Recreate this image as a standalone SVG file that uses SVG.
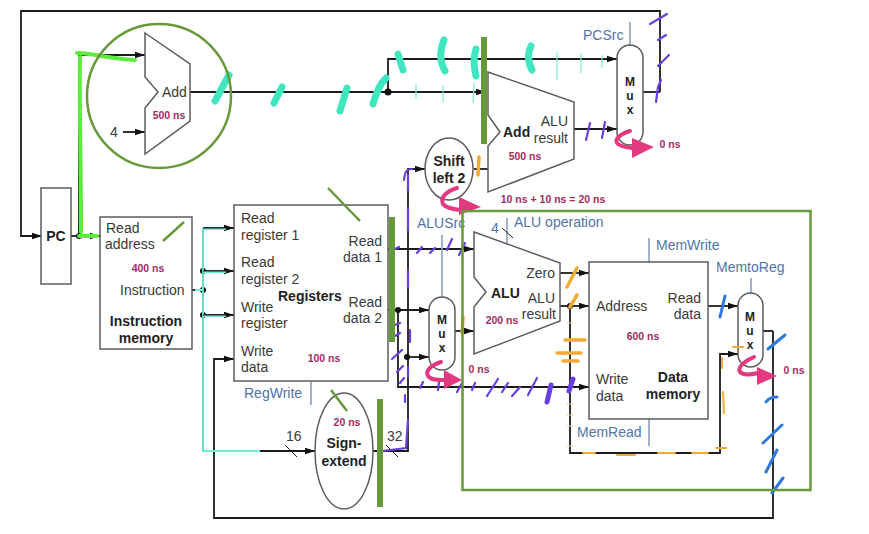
<svg xmlns="http://www.w3.org/2000/svg" width="869" height="534" viewBox="0 0 869 534">
<style>
text{font-family:"Liberation Sans",Arial,sans-serif;font-size:14px;fill:#3a3a3a}
.b{font-weight:bold;fill:#222}
.m{text-anchor:middle}
.e{text-anchor:end}
.t{font-size:10.5px;font-weight:bold;fill:#a32c62;text-anchor:middle}
.c{fill:#4f74a8}
.x{font-size:12px;font-weight:bold;fill:#222;text-anchor:middle}
.n{fill:#fff;stroke:#5c5c5c;stroke-width:1.5}
.w{fill:none;stroke:#1c1c1c;stroke-width:1.8}
.a{marker-end:url(#arr)}
.k{fill:none;stroke:#8ba0bb;stroke-width:1.6}
.d{fill:#111}
.g{fill:none;stroke:#66993a;stroke-linecap:butt}
.tl{fill:none;stroke:#3fe6c0;stroke-width:7;stroke-linecap:round}
.tt{fill:none;stroke:#7eeed6;stroke-width:1.2}
.lg{fill:none;stroke:#5cec3c;stroke-width:4;stroke-linecap:round}
.p{fill:none;stroke:#6a3fe0;stroke-width:2.2;stroke-linecap:round}
.o{fill:none;stroke:#f4ab33;stroke-width:3.5;stroke-linecap:round}
.u{fill:none;stroke:#2f78e0;stroke-width:3;stroke-linecap:round}
.pk{fill:none;stroke:#e23a80;stroke-width:4;stroke-linecap:round}
.pt{fill:#e23a80}
</style>
<defs>
<marker id="arr" markerUnits="userSpaceOnUse" markerWidth="12" markerHeight="8" refX="10" refY="4" orient="auto"><path d="M0 0.8L10 4L0 7.2Z" fill="#111"/></marker>
</defs>
<rect width="869" height="534" fill="#fff"/>

<g id="connectors">
<path class="w a" d="M660 92H660V11H21V236H42"/>
<path class="w" d="M643 92H660"/>
<path class="w a" d="M71 236H100"/>
<path class="w a" d="M79 236V55H145"/>
<path class="w a" d="M123 132H145"/>
<path class="w a" d="M190 92H486"/>
<path class="w a" d="M388 92V59H617"/>
<path class="w a" d="M574 129H617"/>
<path class="w" d="M474 169H488"/>
<path class="w" d="M192 290H203"/>
<path class="w a" d="M203 228H234"/>
<path class="w a" d="M203 271H234"/>
<path class="w a" d="M203 315H234"/>
<path class="w a" d="M203 228V451H315"/>
<path class="w a" d="M773 331V518H214V359H234"/>
<path class="w" d="M763 331H773"/>
<path class="w a" d="M388 249H474"/>
<path class="w a" d="M388 310H429"/>
<path class="w a" d="M398 310V387H589"/>
<path class="w a" d="M373 451H408V169H425"/>
<path class="w a" d="M407 357H429"/>
<path class="w a" d="M455 331H474"/>
<path class="w a" d="M560 273H589"/>
<path class="w a" d="M560 306H589"/>
<path class="w a" d="M570 306V453H720V354H738"/>
<path class="w a" d="M708 306H738"/>
<path class="k" d="M630 22V45M442 235V297M507 218V244M649 238V262M649 419V446M751 278V293M311 381V405"/>
<path class="w" style="stroke-width:1" d="M285 445L297 457M386 445L398 457M502 228L513 238"/>
<circle class="d" cx="79" cy="236" r="3"/><circle class="d" cx="388" cy="92" r="3.5"/>
<circle class="d" cx="203" cy="271" r="3"/><circle class="d" cx="203" cy="290" r="3"/><circle class="d" cx="203" cy="315" r="3"/>
<circle class="d" cx="398" cy="310" r="3"/><circle class="d" cx="407" cy="357" r="3"/><circle class="d" cx="570" cy="306" r="3"/>
</g>

<g id="pc"><rect class="n" x="41" y="188" width="30" height="96"/><text class="b m" x="56" y="241">PC</text></g>
<g id="add-pc"><path class="n" d="M145 33L190 64V121L145 154V108L158 92L145 77Z"/><text x="162" y="97">Add</text><text class="t" x="169" y="119">500 ns</text></g>
<text id="const-4" x="110" y="137">4</text>
<g id="instruction-memory"><rect class="n" x="100" y="217" width="92" height="132"/>
<text x="106" y="233">Read</text><text x="105" y="249">address</text><text class="t" x="148" y="272">400 ns</text><text x="120" y="295">Instruction</text>
<text class="b m" x="146" y="326">Instruction</text><text class="b m" x="146" y="343">memory</text></g>
<g id="registers"><rect class="n" x="234" y="205" width="154" height="176"/>
<text x="241" y="223">Read</text><text x="241" y="240">register 1</text>
<text x="241" y="267">Read</text><text x="241" y="284">register 2</text>
<text x="241" y="312">Write</text><text x="241" y="328">register</text>
<text x="241" y="356">Write</text><text x="241" y="372">data</text>
<text class="e" x="382" y="246">Read</text><text class="e" x="382" y="262">data 1</text>
<text class="e" x="382" y="307">Read</text><text class="e" x="382" y="323">data 2</text>
<text class="b" x="278" y="301">Registers</text><text class="t" x="324" y="362">100 ns</text></g>
<text id="label-regwrite" class="c" x="244" y="398">RegWrite</text>
<text id="label-16" x="286" y="441">16</text>
<text id="label-32" x="387" y="441">32</text>
<g id="sign-extend"><ellipse class="n" cx="344" cy="451" rx="29" ry="58"/><text class="t" x="347" y="426">20 ns</text><text class="b m" x="344" y="448">Sign-</text><text class="b m" x="344" y="466">extend</text></g>
<g id="shift-left-2"><ellipse class="n" cx="449" cy="169" rx="24" ry="31"/><text class="b m" x="449" y="166">Shift</text><text class="b m" x="449" y="183">left 2</text></g>
<g id="add-branch"><path class="n" d="M488 72L574 102V159L488 192V146L500 132L488 115Z"/><text class="b" x="503" y="137">Add</text><text class="e" x="568" y="126">ALU</text><text class="e" x="568" y="143">result</text><text class="t" x="525" y="160">500 ns</text></g>
<g id="mux-pc"><rect class="n" x="617" y="45" width="26" height="100" rx="13"/><text class="x" x="630" y="86">M</text><text class="x" x="630" y="100">u</text><text class="x" x="630" y="114">x</text></g>
<text id="label-pcsrc" class="c" x="583" y="40">PCSrc</text>
<text class="t" x="553" y="203">10 ns + 10 ns = 20 ns</text>
<text class="t" x="670" y="148">0 ns</text>
<g id="alu"><path class="n" d="M474 232L560 263V321L474 354V307L486 292L474 277Z"/><text class="b" x="491" y="298">ALU</text><text class="e" x="555" y="278">Zero</text><text class="e" x="555" y="303">ALU</text><text class="e" x="556" y="319">result</text><text class="t" x="502" y="324">200 ns</text></g>
<g id="mux-alu"><rect class="n" x="429" y="297" width="26" height="73" rx="13"/><text class="x" x="442" y="324">M</text><text class="x" x="442" y="338">u</text><text class="x" x="442" y="352">x</text></g>
<text class="c" x="417" y="228">ALUSrc</text><text class="c" x="491" y="233">4</text><text class="c" x="514" y="227">ALU operation</text>
<text class="t" x="479" y="373">0 ns</text>
<g id="data-memory"><rect class="n" x="589" y="262" width="119" height="157"/>
<text x="596" y="311">Address</text><text class="e" x="701" y="303">Read</text><text class="e" x="701" y="319">data</text>
<text class="t" x="643" y="340">600 ns</text><text x="596" y="384">Write</text><text x="596" y="401">data</text>
<text class="b m" x="673" y="382">Data</text><text class="b m" x="673" y="399">memory</text></g>
<text class="c" x="656" y="250">MemWrite</text><text class="c" x="577" y="437">MemRead</text><text class="c" x="716" y="272">MemtoReg</text>
<g id="mux-mem"><rect class="n" x="738" y="293" width="25" height="74" rx="12.5"/><text class="x" x="750" y="321">M</text><text class="x" x="750" y="335">u</text><text class="x" x="750" y="349">x</text></g>
<text class="t" x="794" y="374">0 ns</text>

<g id="annotations">
<path class="lg" d="M77 53C87 52 100 58 135 60M80 57C79 100 81 150 81 232M79 236H97" />
<path d="M203 228V451H260M203 229H226M203 272H226M203 316H226M195 290H203" fill="none" stroke="#6eeed8" stroke-width="1.8"/>
<path class="w" d="M203 228H234M203 271H234M203 315H234" style="stroke-width:1"/>
<path class="tl" d="M215 101L229 75M274 103L282 87M340 111L347 88M373 104C376 93 380 84 386 78M398 54L403 70M444 40C439 52 440 62 445 71M476 49C473 58 474 68 476 76M531 46C527 54 528 62 532 70"/>
<path class="tt" d="M416 83V99M443 85V103M474 83L473 103M557 52V80M581 53V73M602 55V68"/>
<path class="p" d="M650 24L667 14M658 40L666 35M658 66L669 55M656 102L658 87L661 80M586 140L590 123M602 138L605 122"/>
<path class="p" d="M404 180C405 171 407 169 412 169M382 451L406 448L408 420M405 402V395M408 377V367M410 342V330M408 287V270M408 230V208M408 190V175"/>
<path class="p" d="M417 253L422 247M430 253L435 248M447 250L452 239M459 255L465 243M395 249L399 247"/>
<path class="p" d="M395 325L400 323M395 336L400 333M392 359L402 350M397 372L403 366M400 383L404 378M420 388L423 382M438 390L439 382M457 392L462 383M472 390L475 383M487 396L498 379M502 392L508 383M512 396L520 387M528 395L537 378"/>
<path class="p" style="stroke-width:5" d="M547 402L551 385M569 391L573 379"/>
<path class="o" d="M479 157L478 175M463 317L462 333M577 268L567 287M577 295L570 307M565 340H585M557 353H581M563 361H578"/>
<path class="o" style="stroke-width:2" d="M583 453H595M617 455H635M658 453H675M692 453H708M716 448H726M722 358V368M723 392L724 413M733 347H743"/>
<path fill="none" stroke="#f8dca0" stroke-width="1" d="M566 323H574M566 404H574M566 415H574M566 426H574M566 446H574"/>
<path class="u" d="M725 296L720 317M785 335L768 349M777 397C772 397 768 399 766 402M782 425L763 443M777 450L766 472M783 478L772 493"/>
<path class="pk" d="M630 131C620 134 613 140 618 144C622 147 626 147 632 148"/>
<path class="pt" d="M632 138L654 147L632 158Z"/>
<path class="pk" d="M457 188C447 191 440 197 443 204C446 208 452 209 460 210"/>
<path class="pt" d="M459 197L481 207L459 215Z"/>
<path class="pk" d="M441 362C431 365 425 371 428 376C431 380 437 380 444 380"/>
<path class="pt" d="M444 370L462 380L444 389Z"/>
<path class="pk" d="M754 357C745 361 737 367 740 372C743 375 750 375 758 373"/>
<path class="pt" d="M757 367L777 376L757 385Z"/>
<circle class="g" cx="159" cy="96" r="72" stroke-width="2.5"/>
<rect class="g" x="462.500" y="211" width="348" height="279" stroke-width="2.500"/>
<path class="g" stroke-width="6" d="M484 37V144M392 217V342M380 399V507"/>
<path class="g" stroke-width="2.500" d="M163 241L184 222M328 188L360 221M331 390L347 411"/>
</g>
</svg>
